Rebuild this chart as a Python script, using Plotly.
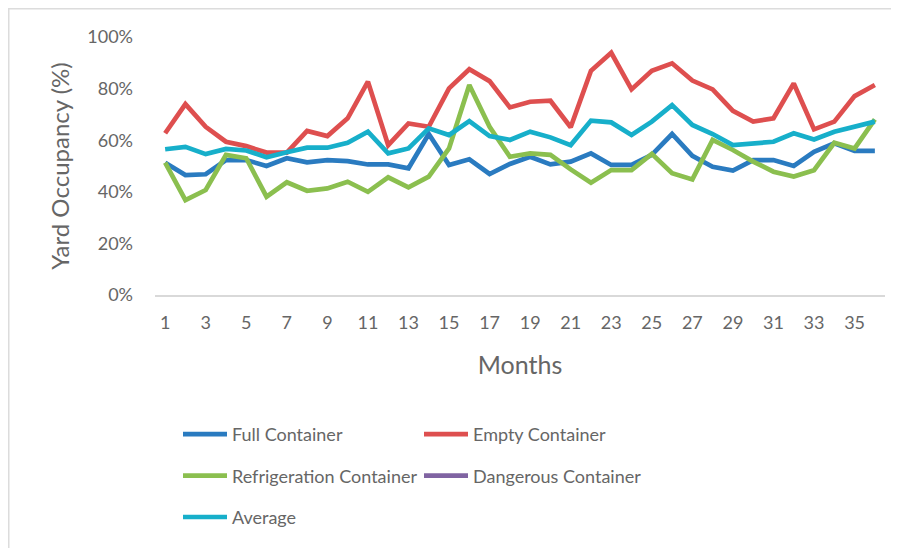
import plotly.graph_objects as go

months = list(range(1, 37))

full_container = [51.3, 46.5, 46.8, 52.3, 52.3, 50.0, 53.0, 51.4, 52.3, 51.9, 50.6, 50.6,
                  49.1, 62.4, 50.4, 52.6, 46.9, 50.8, 53.6, 50.6, 51.7, 54.9, 50.4, 50.4,
                  54.3, 62.4, 53.9, 49.7, 48.2, 52.3, 52.3, 50.0, 55.5, 58.8, 55.9, 55.9]
empty_container = [62.7, 74.0, 65.2, 59.4, 57.7, 55.2, 55.2, 63.6, 61.6, 68.5, 82.7, 58.1,
                   66.5, 65.2, 80.1, 87.5, 82.9, 72.7, 74.9, 75.3, 65.0, 86.9, 93.9, 79.7,
                   86.9, 89.8, 83.1, 79.7, 71.4, 67.2, 68.5, 82.0, 64.2, 67.2, 77.1, 81.4]
refrigeration_container = [51.3, 36.8, 40.7, 54.3, 53.0, 38.1, 43.7, 40.4, 41.3, 43.9, 40.0, 45.6,
                           41.7, 45.9, 56.8, 81.4, 65.2, 53.6, 54.9, 54.3, 48.7, 43.5, 48.4, 48.4,
                           54.7, 47.2, 44.8, 60.1, 56.2, 51.7, 47.8, 45.9, 48.4, 59.0, 56.8, 68.1]
dangerous_container = [None] * 36
average = [56.5, 57.4, 54.6, 56.6, 56.0, 53.4, 55.3, 57.1, 57.1, 59.0, 63.3, 54.9,
           56.8, 64.6, 62.0, 67.4, 61.6, 60.1, 63.3, 61.1, 58.1, 67.6, 66.9, 62.0,
           67.2, 73.6, 65.9, 62.4, 58.1, 58.8, 59.4, 62.7, 60.3, 63.3, 65.2, 67.2]

series = [
    ("Full Container", full_container, "#2A7BC0", "legend"),
    ("Empty Container", empty_container, "#DE4F4F", "legend2"),
    ("Refrigeration Container", refrigeration_container, "#8BBF4F", "legend"),
    ("Dangerous Container", dangerous_container, "#8064A2", "legend2"),
    ("Average", average, "#17AFCA", "legend"),
]

FONT = "Lato"
GRAY = "#666666"

W, H = 899, 548
L, R, T, B = 147, 22, 29, 261
PW, PH = W - L - R, H - T - B

def px_x(p):
    return (p - L) / PW

def px_y(p):
    return (T + PH - p) / PH

fig = go.Figure()
for name, vals, color, leg in series:
    fig.add_trace(go.Scatter(
        x=months,
        y=[v / 100 if v is not None else None for v in vals],
        mode="lines",
        name=name,
        line=dict(color=color, width=4.7),
        legend=leg,
        legendgroup=name,
    ))

legend_common = dict(
    orientation="v",
    yanchor="top",
    xanchor="left",
    font=dict(family=FONT, size=18, color=GRAY),
    bgcolor="rgba(0,0,0,0)",
    tracegroupgap=15,
    itemwidth=44,
)

fig.update_layout(
    width=W,
    height=H,
    margin=dict(l=L, r=R, t=T, b=B),
    paper_bgcolor="white",
    plot_bgcolor="white",
    font=dict(family=FONT, color=GRAY),
    legend=dict(x=px_x(170), y=px_y(408), **legend_common),
    legend2=dict(x=px_x(411), y=px_y(408), **legend_common),
    xaxis=dict(
        range=[0.5, 36.5],
        tickmode="linear",
        tick0=1,
        dtick=2,
        showgrid=False,
        zeroline=False,
        showline=True,
        linecolor="#D9D9D9",
        linewidth=1.5,
        ticks="",
        tickfont=dict(family=FONT, size=18, color=GRAY),
        ticklabelstandoff=11,
        title=dict(text="Months", font=dict(family=FONT, size=25, color=GRAY), standoff=24),
    ),
    yaxis=dict(
        range=[0, 1],
        tickmode="linear",
        tick0=0,
        dtick=0.2,
        tickformat=".0%",
        showgrid=False,
        zeroline=False,
        showline=False,
        ticks="",
        tickfont=dict(family=FONT, size=18, color=GRAY),
        ticklabelstandoff=21,
        title=dict(text="Yard Occupancy (%)", font=dict(family=FONT, size=24, color=GRAY), standoff=10),
    ),
    shapes=[
        dict(type="line", xref="paper", yref="paper",
             x0=px_x(0), x1=px_x(W + 5),
             y0=px_y(0.5), y1=px_y(0.5),
             line=dict(color="#DCDCDC", width=2)),
        dict(type="line", xref="paper", yref="paper",
             x0=px_x(0.5), x1=px_x(0.5),
             y0=px_y(0), y1=px_y(H + 10),
             line=dict(color="#DCDCDC", width=2)),
    ],
)

fig.write_html("out.html")
